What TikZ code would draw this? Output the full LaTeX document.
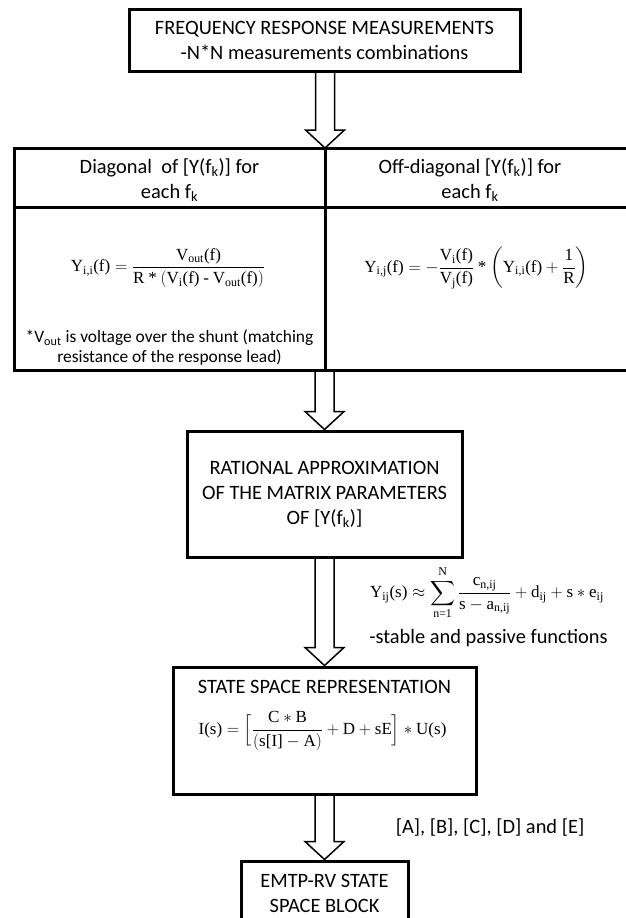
\RequirePackage{fix-cm}
\documentclass[tikz,border=0pt]{standalone}
\usepackage{amsmath}
\usepackage{fontspec}
\setmainfont{Carlito}
\newfontfamily\eqfont{Liberation Serif}
\usetikzlibrary{calc}

\newcommand{\er}[1]{\text{\eqfont #1}}
\newcommand{\eqstar}{\mathbin{\text{\eqfont *}}}
\newcommand{\eqdash}{\mathbin{\text{\eqfont -}}}

\tikzset{
  box/.style={draw,line width=3pt,inner sep=0pt},
  txt/.style={align=center,font=\fontsize{20.4}{25}\selectfont,inner sep=0pt},
  smalltxt/.style={align=center,font=\fontsize{17.4}{20}\selectfont,inner sep=0pt},
  eqtxt/.style={inner sep=0pt,font=\fontsize{17}{20}\selectfont},
  hollow/.style={line width=1.5pt,line join=miter}
}

\begin{document}
\begin{tikzpicture}
        [x=1pt,y=-1pt]
        \useasboundingbox (0,0) rectangle (625,918);

        \node[box,txt,minimum width=391,minimum height=62] (meas) at (324.5,40)
          {FREQUENCY RESPONSE MEASUREMENTS\\-N*N measurements combinations};

        % admittance table, cut at the right edge
        \draw[line width=3pt] (14,148) rectangle (640,370);
        \draw[line width=3pt] (14,207) -- (640,207);
        \draw[line width=3pt] (325,148) -- (325,370);
        \coordinate (splittop) at (325,148);
        \coordinate (splitbot) at (325,370);

        \node[txt] (diaghead) at (169.5,180.5) {Diagonal\ \ of [Y(f\textsubscript{k})] for\\each f\textsubscript{k}};
        \node[txt] (offhead) at (470,180.5) {Off-diagonal [Y(f\textsubscript{k})] for\\each f\textsubscript{k}};
        \node[eqtxt] (diageq) at (168,268)
          {$\er{Y}_{\er{i,i}}\er{(f)}=\dfrac{\er{V}_{\er{out}}\er{(f)}}{\er{R}\eqstar(\er{V}_{\er{i}}\er{(f)}\eqdash\er{V}_{\er{out}}\er{(f)})}$};
        \node[eqtxt] (offeq) at (476.5,268)
          {$\er{Y}_{\er{i,j}}\er{(f)}=-\dfrac{\er{V}_{\er{i}}\er{(f)}}{\er{V}_{\er{j}}\er{(f)}}\eqstar\left(\er{Y}_{\er{i,i}}\er{(f)}+\dfrac{\er{1}}{\er{R}}\right)$};
        \node[smalltxt] (note) at (169.5,348)
          {*V\textsubscript{out} is voltage over the shunt (matching\\resistance of the response lead)};

        \node[box,txt,minimum width=275,minimum height=126] (rat) at (324.5,494)
          {RATIONAL APPROXIMATION\\OF THE MATRIX PARAMETERS\\OF [Y(f\textsubscript{k})]};
        \node[eqtxt] (fiteq) at (487,593)
          {$\displaystyle\er{Y}_{\er{ij}}\er{(s)}\approx\sum_{\er{n=1}}^{\er{N}}\frac{\er{c}_{\er{n,ij}}}{\er{s}-\er{a}_{\er{n,ij}}}+\er{d}_{\er{ij}}+\er{s}\ast\er{e}_{\er{ij}}$};
        \node[txt] (fitnote) at (488.5,638) {-stable and passive functions};

        \node[box,minimum width=303,minimum height=127] (state) at (324.5,730.5) {};
        \node[txt] (statehead) at (324.5,687) {STATE SPACE REPRESENTATION};
        \node[eqtxt] (stateeq) at (322.5,731)
          {$\er{I(s)}=\Bigl[\dfrac{\er{C}\ast\er{B}}{(\er{s[I]}-\er{A})}+\er{D}+\er{sE}\Bigr]\ast\er{U(s)}$};
        \node[txt] (ssmat) at (490,828) {[A], [B], [C], [D] and [E]};

        \node[box,txt,minimum width=167,minimum height=64] (emtp) at (324.5,893)
          {EMTP-RV STATE\\SPACE BLOCK};

        \foreach \a/\b in {meas.south/splittop,splitbot/rat.north,rat.south/state.north,state.south/emtp.north}
        {\draw[hollow] ($(\a -| \b)+(-9.5,0)$) -- ($(\b)+(-9.5,-18)$) -- ($(\b)+(-19.5,-18)$) -- (\b)
            -- ($(\b)+(19.5,-18)$) -- ($(\b)+(9.5,-18)$) -- ($(\a -| \b)+(9.5,0)$);}
      \end{tikzpicture}
\end{document}
